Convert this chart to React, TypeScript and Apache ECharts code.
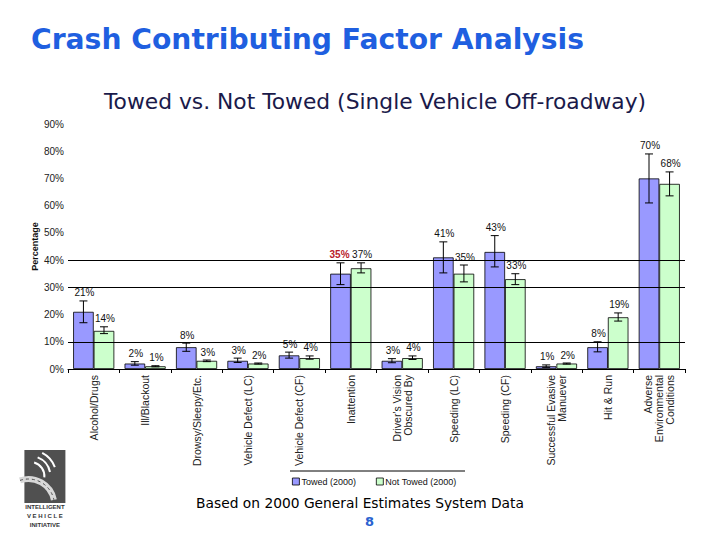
import React, { useEffect, useRef } from "react";
import * as echarts from "echarts";

// Contributing factors (x-axis categories)
const categories = [
  "Alcohol/Drugs",
  "Ill/Blackout",
  "Drowsy/Sleepy/Etc.",
  "Vehicle Defect (LC)",
  "Vehicle Defect (CF)",
  "Inattention",
  "Driver's Vision\nObscured By",
  "Speeding (LC)",
  "Speeding (CF)",
  "Successful Evasive\nManuever",
  "Hit & Run",
  "Adverse\nEnvironmental\nConditions",
];

// Percentages per factor
const towed = [21, 2, 8, 3, 5, 35, 3, 41, 43, 1, 8, 70];
const notTowed = [14, 1, 3, 2, 4, 37, 4, 35, 33, 2, 19, 68];

// Confidence interval bounds (low, high)
const towedLow = [17, 1.4, 6.5, 2.4, 4, 31, 2.3, 35.3, 37.5, 0.6, 6.3, 61];
const towedHigh = [25, 2.7, 9.5, 4, 6.2, 39, 3.8, 46.7, 49, 1.5, 10, 79];
const notTowedLow = [13, 0.8, 2.7, 1.8, 3.6, 35.3, 3.5, 32, 31, 1.8, 17.6, 63.6];
const notTowedHigh = [15.5, 1.2, 3.3, 2.2, 4.8, 39, 4.8, 38.2, 35, 2.2, 20.6, 72.4];

// Y-axis ticks and reference lines
const yTicks = [0, 10, 20, 30, 40, 50, 60, 70, 80, 90];
const refLines = [10, 30, 40];

const seriesNames = ["Towed (2000)", "Not Towed (2000)"];
const highlightIndex = 5; // Inattention (towed) label drawn in red

const TOWED_COLOR = "#9999ff";
const NOT_TOWED_COLOR = "#ccffcc";
const SANS = "'Liberation Sans', Arial, sans-serif";
const WIDE = "'DejaVu Sans', Verdana, sans-serif";

function errorRenderer(sign: number, values: number[], seriesIdx: number) {
  return (params: any, api: any) => {
    const idx = api.value(0);
    const lo = api.value(1);
    const hi = api.value(2);
    const band = api.size([1, 0])[0];
    const off = sign * band * 0.2;
    const pLo = api.coord([idx, lo]);
    const pHi = api.coord([idx, hi]);
    const x = pLo[0] + off;
    const cap = 4;
    const lineStyle = { stroke: "#000", lineWidth: 1 };
    const red = seriesIdx === 0 && idx === highlightIndex;
    return {
      type: "group",
      children: [
        { type: "line", shape: { x1: x, y1: pLo[1], x2: x, y2: pHi[1] }, style: lineStyle },
        { type: "line", shape: { x1: x - cap, y1: pHi[1], x2: x + cap, y2: pHi[1] }, style: lineStyle },
        { type: "line", shape: { x1: x - cap, y1: pLo[1], x2: x + cap, y2: pLo[1] }, style: lineStyle },
        {
          type: "text",
          x: x + (red ? -1 : 1),
          y: pHi[1] - 3,
          style: {
            text: values[idx] + "%",
            textAlign: "center",
            textVerticalAlign: "bottom",
            fill: red ? "#b8202a" : "#111",
            font: (red ? "bold " : "") + "10px " + SANS,
          },
        },
      ],
    };
  };
}

export default function App() {
  const ref = useRef<HTMLDivElement>(null);

  useEffect(() => {
    if (!ref.current) return;
    const chart = echarts.init(ref.current, null, { renderer: "svg" });

    const towedErr = categories.map((_, i) => [i, towedLow[i], towedHigh[i]]);
    const notTowedErr = categories.map((_, i) => [i, notTowedLow[i], notTowedHigh[i]]);

    chart.setOption({
      animation: false,
      backgroundColor: "#ffffff",
      textStyle: { fontFamily: SANS },
      title: [
        {
          text: "Crash Contributing Factor Analysis",
          left: 26,
          top: 20,
          textStyle: { fontFamily: WIDE, fontWeight: "bold", fontSize: 28.2, color: "#1f5fe0" },
        },
        {
          text: "Towed vs. Not Towed (Single Vehicle Off-roadway)",
          left: 99,
          top: 85,
          textStyle: { fontFamily: WIDE, fontWeight: "normal", fontSize: 21.8, color: "#1a1a4a" },
        },
        {
          text: "Based on 2000 General Estimates System Data",
          left: "center",
          top: 491,
          textStyle: { fontFamily: WIDE, fontWeight: "normal", fontSize: 13.8, color: "#000" },
        },
        {
          text: "8",
          left: 360,
          top: 510,
          textStyle: { fontFamily: WIDE, fontWeight: "bold", fontSize: 13, color: "#2a62d0" },
        },
      ],
      legend: {
        data: seriesNames,
        left: 287,
        top: 472,
        itemWidth: 7,
        itemHeight: 7,
        itemGap: 20,
        icon: "rect",
        textStyle: { fontSize: 9, color: "#111", padding: [0, 0, 0, -3] },
        itemStyle: { borderColor: "#000", borderWidth: 0.8 },
      },
      grid: { left: 68, right: 35, top: 124, bottom: 171 },
      xAxis: {
        type: "category",
        data: categories,
        axisLine: { lineStyle: { color: "#000", width: 1 } },
        axisTick: { show: true, length: 4, lineStyle: { color: "#000" } },
        axisLabel: {
          rotate: 90,
          interval: 0,
          margin: 6,
          fontSize: 10.5,
          lineHeight: 11,
          color: "#222",
          fontFamily: SANS,
        },
      },
      yAxis: {
        type: "value",
        min: 0,
        max: yTicks[yTicks.length - 1],
        interval: 10,
        name: "Percentage",
        nameLocation: "middle",
        nameGap: 29,
        nameMoveOverlap: false,
        nameRotate: 90,
        nameTextStyle: { fontSize: 9, fontWeight: "bold", color: "#111" },
        axisLine: { show: false },
        axisTick: { show: false },
        splitLine: { show: false },
        axisLabel: {
          formatter: (v: number) => v + "%",
          fontSize: 10,
          color: "#222",
          margin: 4,
        },
      },
      graphic: [
        // legend frame top rule
        { type: "line", shape: { x1: 290, y1: 471, x2: 465, y2: 471 }, style: { stroke: "#000", lineWidth: 1 } },
        // logo
        {
          type: "group",
          left: 17,
          top: 450,
          children: [
            { type: "rect", shape: { x: 0, y: 0, width: 41, height: 53 }, style: { fill: "#505050" } },
            { type: "arc", shape: { cx: 6, cy: 26, r: 14, startAngle: -1.3, endAngle: 0.1 }, style: { stroke: "#fff", lineWidth: 2, fill: "none" } },
            { type: "arc", shape: { cx: 6, cy: 26, r: 20, startAngle: -1.2, endAngle: -0.2 }, style: { stroke: "#fff", lineWidth: 2, fill: "none" } },
            { type: "arc", shape: { cx: 6, cy: 26, r: 26, startAngle: -1.1, endAngle: -0.35 }, style: { stroke: "#fff", lineWidth: 2, fill: "none" } },
            { type: "arc", shape: { cx: 4, cy: 55, r: 26, startAngle: -1.9, endAngle: -0.2 }, style: { stroke: "#d8d8d8", lineWidth: 6, fill: "none" } },
            { type: "arc", shape: { cx: 4, cy: 55, r: 26, startAngle: -1.9, endAngle: -0.2 }, style: { stroke: "#505050", lineWidth: 1, lineDash: [3, 3], fill: "none" } },
            { type: "text", x: 20.5, y: 54, style: { text: "INTELLIGENT", textAlign: "center", fill: "#333", font: "bold 6px " + SANS } },
            { type: "text", x: 20.5, y: 63, style: { text: "V E H I C L E", textAlign: "center", fill: "#333", font: "bold 6px " + SANS } },
            { type: "text", x: 20.5, y: 72, style: { text: "INITIATIVE", textAlign: "center", fill: "#333", font: "bold 6px " + SANS } },
          ],
        },
      ],
      series: [
        {
          type: "line",
          data: [],
          z: 1,
          silent: true,
          markLine: {
            symbol: "none",
            silent: true,
            label: { show: false },
            lineStyle: { color: "#000", width: 1, type: "solid" },
            data: refLines.map((v) => ({ yAxis: v })),
          },
        },
        {
          name: seriesNames[0],
          type: "bar",
          data: towed,
          z: 2,
          barGap: "0%",
          barCategoryGap: "20%",
          itemStyle: { color: TOWED_COLOR, borderColor: "#000", borderWidth: 0.8 },
        },
        {
          name: seriesNames[1],
          type: "bar",
          data: notTowed,
          z: 2,
          itemStyle: { color: NOT_TOWED_COLOR, borderColor: "#000", borderWidth: 0.8 },
        },
        {
          type: "custom",
          z: 3,
          renderItem: errorRenderer(-1, towed, 0),
          data: towedErr,
          encode: { x: 0, y: [1, 2] },
        },
        {
          type: "custom",
          z: 3,
          renderItem: errorRenderer(1, notTowed, 1),
          data: notTowedErr,
          encode: { x: 0, y: [1, 2] },
        },
      ],
    });

    return () => chart.dispose();
  }, []);

  return (
    <div
      ref={ref}
      style={{ position: "fixed", left: 0, top: 0, width: 720, height: 540 }}
    />
  );
}
